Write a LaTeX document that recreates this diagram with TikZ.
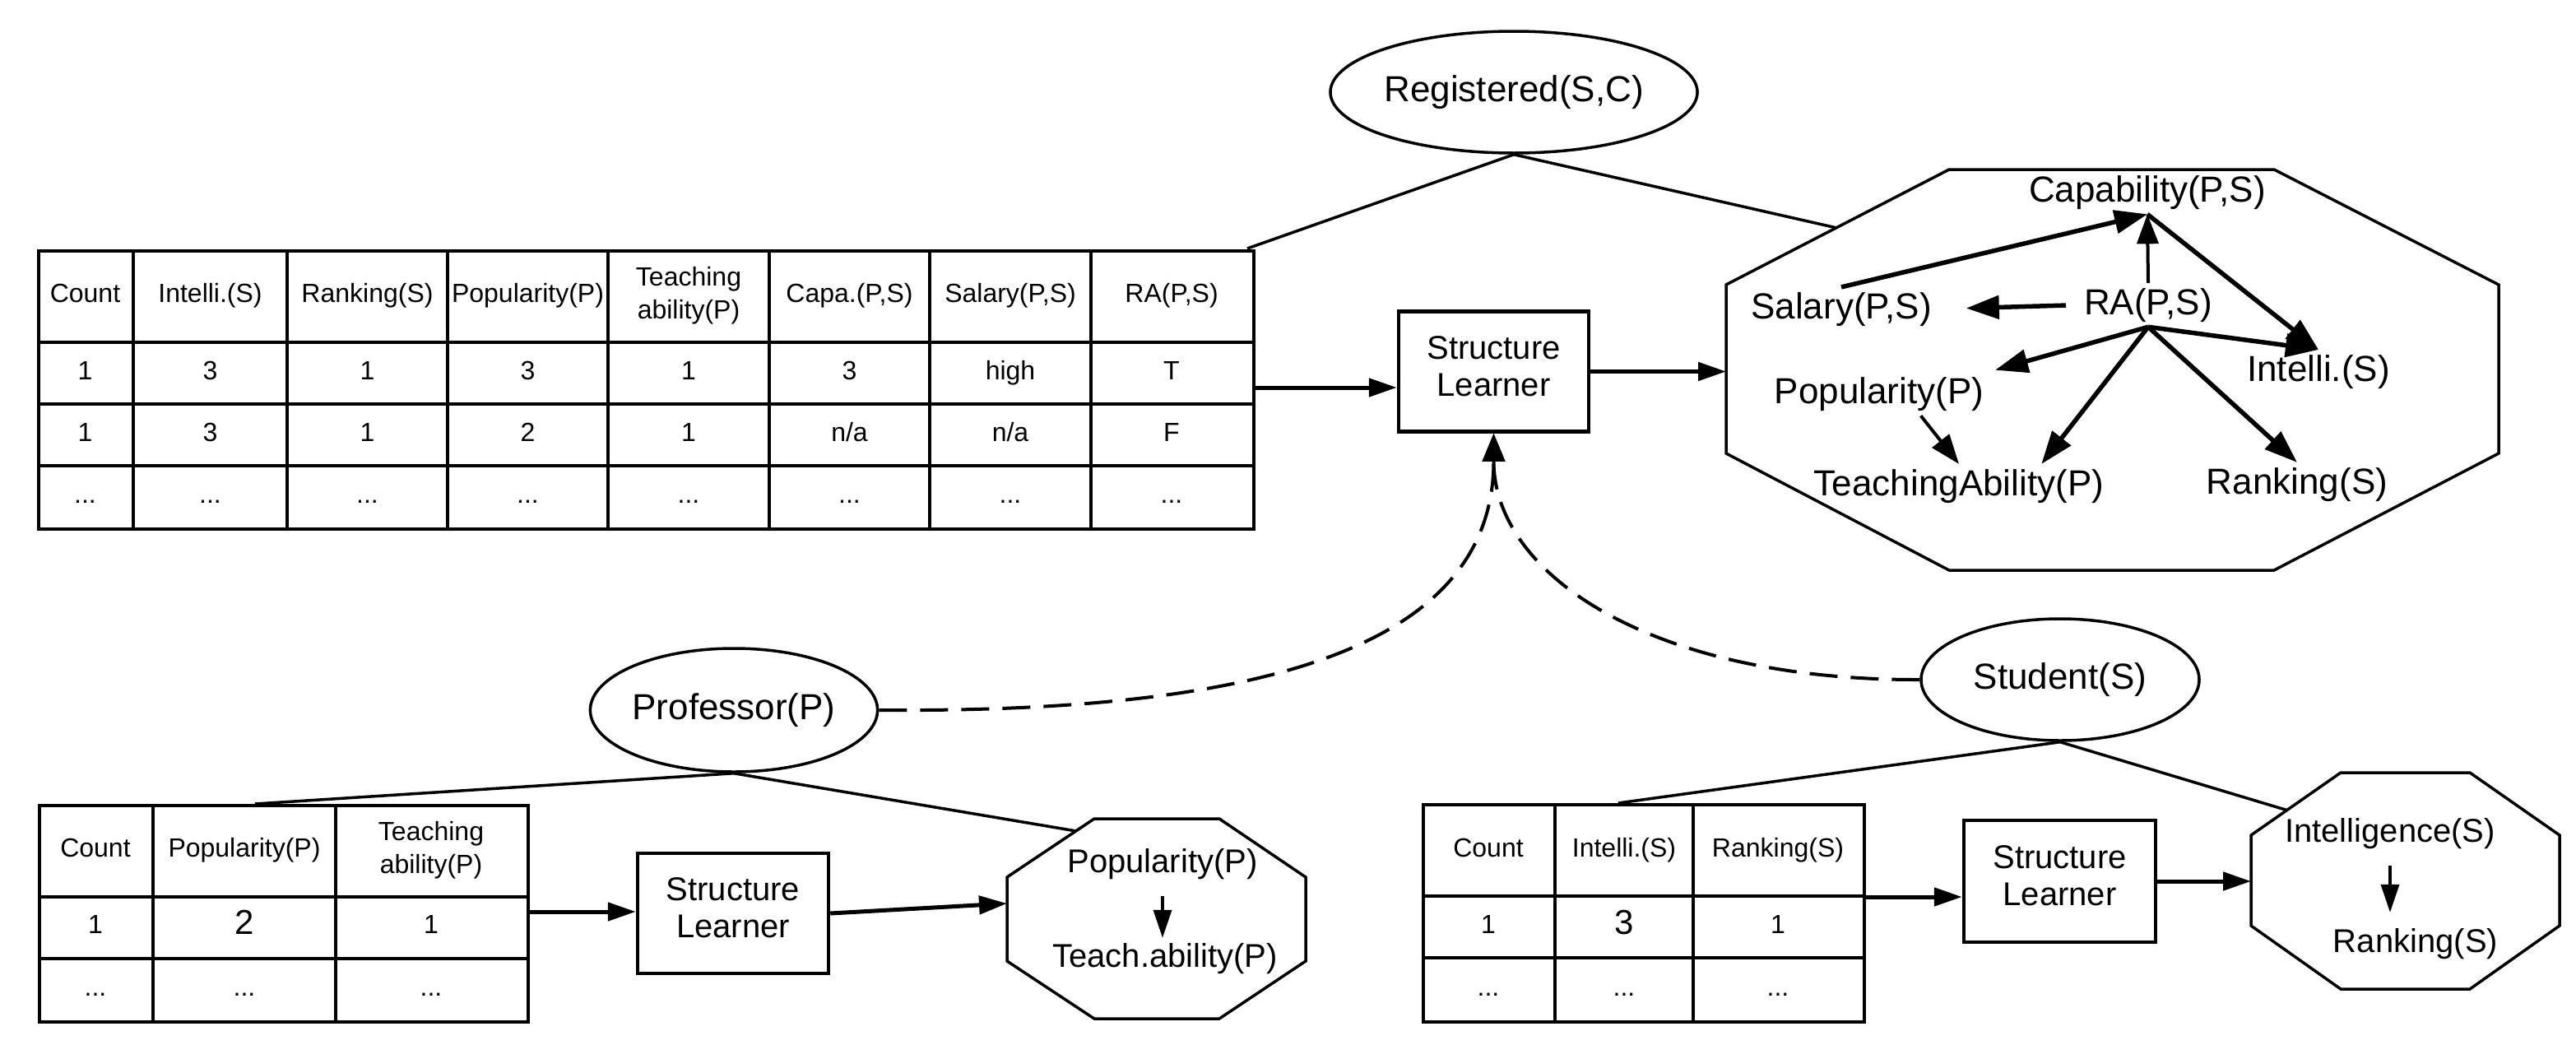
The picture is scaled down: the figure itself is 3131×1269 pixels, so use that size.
\documentclass[tikz,border=0pt]{standalone}
\usepackage{fontspec}
\setmainfont{Liberation Sans}
\usetikzlibrary{shapes.geometric,arrows.meta,calc}

\begin{document}
\begin{tikzpicture}[x=1pt,y=-1pt,
  rule/.style={line width=3.5pt},
  frame/.style={draw,line width=4pt,inner sep=0pt,anchor=north west},
  cell/.style={anchor=base,inner sep=0pt,font=\fontsize{32}{40}\selectfont},
  hcell/.style={anchor=center,inner sep=0pt,align=center,font=\fontsize{32}{40}\selectfont},
  bigcell/.style={anchor=base,inner sep=0pt,font=\fontsize{42}{48}\selectfont},
  entity/.style={ellipse,draw,line width=3.5pt,inner sep=0pt,font=\fontsize{44}{50}\selectfont},
  learner/.style={draw,line width=4.5pt,inner sep=0pt,align=center,font=\fontsize{40}{45}\selectfont},
  var/.style={anchor=base,inner sep=6pt,font=\fontsize{44}{50}\selectfont},
  svar/.style={anchor=base,inner sep=6pt,font=\fontsize{40}{46}\selectfont},
  octo/.style={line width=3.5pt,line join=miter},
  link/.style={line width=3.5pt},
  flow/.style={line width=5pt,-{Triangle[length=34pt,width=22pt]}},
  dep/.style={line width=5.5pt,-{Triangle[length=40pt,width=28pt]}},
  lightdep/.style={line width=4pt,-{Triangle[length=36pt,width=26pt]}},
  smalldep/.style={line width=3.5pt,-{Triangle[length=34pt,width=22pt]}},
  merge/.style={line width=4pt,dash pattern=on 34pt off 16pt,-{Triangle[length=34pt,width=27pt]}}
]
\useasboundingbox (0,0) rectangle (3131,1269);

% ---------- joint table Registered ----------
\node[frame,minimum width=1477pt,minimum height=338pt] (tabA) at (45,303) {};
\foreach \x in {162,349,544,739,935,1130,1326}
  \draw[rule] (\x,303) -- (\x,641);
\foreach \y in {416,491,566}
  \draw[rule] (45,\y) -- (1522,\y);
\foreach \x/\t [count=\i] in {103.5/Count,255.5/Intelli.(S),446.5/Ranking(S),641.5/Popularity(P),1032.5/{Capa.(P,S)},1228/{Salary(P,S)},1424/{RA(P,S)}}
  \node[cell] (ah\i) at (\x,367) {\t};
\node[hcell] (ahta) at (837,359.5) {Teaching\\ability(P)};
\foreach \x/\t [count=\i] in {103.5/1,255.5/3,446.5/1,641.5/3,837/1,1032.5/3,1228/high,1424/T}
  \node[cell] (ar\i) at (\x,461) {\t};
\foreach \x/\t [count=\i] in {103.5/1,255.5/3,446.5/1,641.5/2,837/1,1032.5/{n/a},1228/{n/a},1424/F}
  \node[cell] (as\i) at (\x,536) {\t};
\foreach \x [count=\i] in {103.5,255.5,446.5,641.5,837,1032.5,1228,1424}
  \node[cell] (at\i) at (\x,611) {...};

% ---------- table Professor ----------
\node[frame,minimum width=594pt,minimum height=263pt] (tabB) at (46,977) {};
\foreach \x in {186,408}
  \draw[rule] (\x,977) -- (\x,1240);
\foreach \y in {1090,1165}
  \draw[rule] (46,\y) -- (640,\y);
\node[cell] (bh1) at (116,1041) {Count};
\node[cell] (bh2) at (297,1041) {Popularity(P)};
\node[hcell] (bh3) at (524,1033.5) {Teaching\\ability(P)};
\node[cell] (br1) at (116,1134.5) {1};
\node[bigcell] (br2) at (297,1135) {2};
\node[cell] (br3) at (524,1134.5) {1};
\foreach \x [count=\i] in {116,297,524}
  \node[cell] (bt\i) at (\x,1210) {...};

% ---------- table Student ----------
\node[frame,minimum width=536pt,minimum height=264pt] (tabC) at (1728,976) {};
\foreach \x in {1890,2058}
  \draw[rule] (\x,976) -- (\x,1240);
\foreach \y in {1089,1164}
  \draw[rule] (1728,\y) -- (2264,\y);
\node[cell] (ch1) at (1809,1041) {Count};
\node[cell] (ch2) at (1974,1041) {Intelli.(S)};
\node[cell] (ch3) at (2161,1041) {Ranking(S)};
\node[cell] (cr1) at (1809,1134.5) {1};
\node[bigcell] (cr2) at (1974,1135) {3};
\node[cell] (cr3) at (2161,1134.5) {1};
\foreach \x [count=\i] in {1809,1974,2161}
  \node[cell] (ct\i) at (\x,1210) {...};

% ---------- entity ellipses ----------
\node[entity,minimum width=407pt,minimum height=148pt] (reg) at (1840,112) {Registered(S,C)};
\node[entity,minimum width=337pt,minimum height=150pt] (prof) at (892,863) {Professor(P)};
\node[entity,minimum width=338pt,minimum height=148pt] (stud) at (2504,826) {Student(S)};

% ---------- structure learners ----------
\node[learner,minimum width=231pt,minimum height=146pt] (sl1) at (1815.5,451.5) {Structure\\Learner\rule[-13pt]{0pt}{1pt}};
\node[learner,minimum width=232pt,minimum height=146pt] (sl2) at (891,1110) {Structure\\Learner\rule[-13pt]{0pt}{1pt}};
\node[learner,minimum width=233pt,minimum height=148pt] (sl3) at (2503.5,1071) {Structure\\Learner\rule[-13pt]{0pt}{1pt}};

% ---------- learned model outlines ----------
\coordinate (oA1) at (2369,206);  \coordinate (oA2) at (2764,206);
\coordinate (oA3) at (3037,346);  \coordinate (oA4) at (3037,551);
\coordinate (oA5) at (2764,693);  \coordinate (oA6) at (2369,693);
\coordinate (oA7) at (2098,551);  \coordinate (oA8) at (2098,346);
\draw[octo] (oA1) -- (oA2) -- (oA3) -- (oA4) -- (oA5) -- (oA6) -- (oA7) -- (oA8) -- cycle;

\coordinate (oB1) at (1330,995);  \coordinate (oB2) at (1482,995);
\coordinate (oB3) at (1587,1066); \coordinate (oB4) at (1587,1168);
\coordinate (oB5) at (1482,1238); \coordinate (oB6) at (1330,1238);
\coordinate (oB7) at (1224,1168); \coordinate (oB8) at (1224,1066);
\draw[octo] (oB1) -- (oB2) -- (oB3) -- (oB4) -- (oB5) -- (oB6) -- (oB7) -- (oB8) -- cycle;

\coordinate (oC1) at (2845,939);  \coordinate (oC2) at (3002,939);
\coordinate (oC3) at (3111,1015); \coordinate (oC4) at (3111,1125);
\coordinate (oC5) at (3002,1202); \coordinate (oC6) at (2845,1202);
\coordinate (oC7) at (2736,1125); \coordinate (oC8) at (2736,1015);
\draw[octo] (oC1) -- (oC2) -- (oC3) -- (oC4) -- (oC5) -- (oC6) -- (oC7) -- (oC8) -- cycle;

% ---------- entity links ----------
\coordinate (regA) at ($(oA8)!0.494!(oA1)$);
\coordinate (regT) at (1516,302);
\coordinate (profB) at (310,977);
\coordinate (profO) at ($(oB8)!0.79!(oB1)$);
\coordinate (studC) at (1967,976);
\coordinate (studO) at ($(oC8)!0.4!(oC1)$);
\draw[link] (regT) -- (reg.south) -- (regA);
\draw[link] (profB) -- (prof.south) -- (profO);
\draw[link] (studC) -- (stud.south) -- (studO);

% ---------- data flow ----------
\coordinate (tabAout) at (1522,471);
\coordinate (tabBout) at (640,1108);
\coordinate (tabCout) at (2264,1090);
\coordinate (oAin) at (2098,451.5);
\coordinate (oBin) at (1224,1098);
\coordinate (oCin) at (2736,1071);
\draw[flow] (tabAout) -- (tabAout -| sl1.west);
\draw[flow] (sl1.east) -- (oAin);
\draw[flow] (tabBout) -- (tabBout -| sl2.west);
\draw[flow] (sl2.east) -- (oBin);
\draw[flow] (tabCout) -- (tabCout -| sl3.west);
\draw[flow] (sl3.east) -- (oCin);

% ---------- single-table models feed the joint learner ----------
\draw[merge] (prof.east) .. controls (1500,866) and (1815.5,800) .. (sl1.south);
\draw[merge] (stud.west) .. controls (2010,827) and (1815.5,700) .. (sl1.south);

% ---------- joint model ----------
\node[var] (cap) at (2610,245) {Capability(P,S)};
\node[var] (sal) at (2238,387) {Salary(P,S)};
\node[var] (ra)  at (2611,382) {RA(P,S)};
\node[var] (int) at (2818,463) {Intelli.(S)};
\node[var] (pop) at (2284,490) {Popularity(P)};
\node[var] (ta)  at (2381,602) {TeachingAbility(P)};
\node[var] (rk)  at (2792,600) {Ranking(S)};
\draw[dep] (sal.north) -- (cap.south);
\draw[lightdep] (ra.north) -- (cap.south);
\draw[dep] (cap.south) -- (int.north);
\draw[dep,shorten <=16pt,shorten >=36pt] (ra.west) -- (sal.east);
\draw[dep] (ra.south) -- (int.north);
\draw[dep,shorten >=8pt] (ra.south) -- (pop.north east);
\draw[dep] (ra.south) -- ($(ta.north)!0.55!(ta.north east)$);
\draw[dep] (ra.south) -- (rk.north);
\draw[lightdep] ($(pop.south)!0.38!(pop.south east)$) -- (ta.north);

% ---------- professor model ----------
\node[svar] (pop2) at (1413,1060) {Popularity(P)};
\node[svar] (ta2)  at (1416,1175) {Teach.ability(P)};
\draw[smalldep,shorten <=14pt] (pop2.south) -- (pop2.south |- ta2.north);

% ---------- student model ----------
\node[svar] (int3) at (2905,1023) {Intelligence(S)};
\node[svar] (rk3)  at (2936,1157) {Ranking(S)};
\draw[smalldep,shorten <=14pt,shorten >=13pt] (int3.south) -- (int3.south |- rk3.north);
\end{tikzpicture}
\end{document}
